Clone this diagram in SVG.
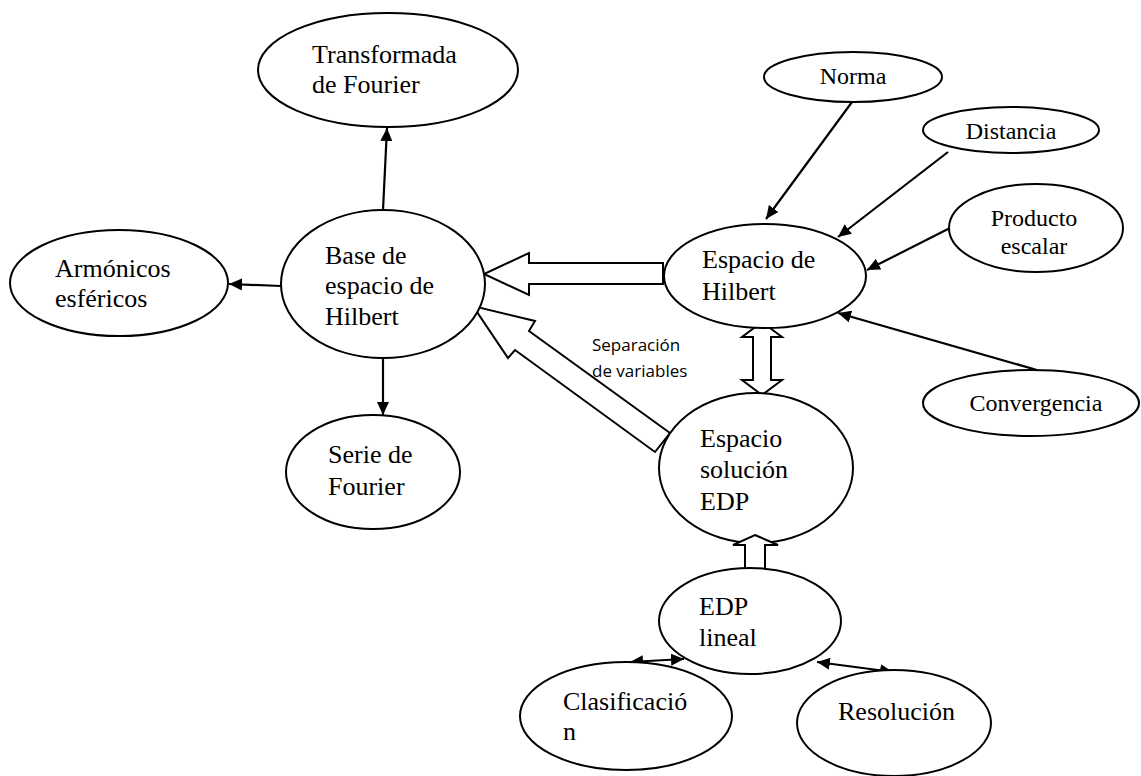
<svg xmlns="http://www.w3.org/2000/svg" width="1141" height="776" viewBox="0 0 1141 776">
<style>
  .node ellipse { fill: #ffffff; stroke: #000000; stroke-width: 2; }
  .t { font-family: "Liberation Serif", "Times New Roman", serif; font-size: 26px; fill: #000000; }
  .ts { font-family: "Liberation Serif", "Times New Roman", serif; font-size: 24px; fill: #000000; }
  .lbl { font-family: "Open Sans", "Liberation Sans", sans-serif; font-size: 17px; fill: #000000; }
  .ln { stroke: #000000; stroke-width: 2.2; fill: none; }
  .blk { fill: #ffffff; stroke: #000000; stroke-width: 2; stroke-linejoin: miter; }
</style>
<defs>
  <marker id="ah" markerUnits="userSpaceOnUse" viewBox="0 0 13 12" refX="13" refY="6" markerWidth="13" markerHeight="12" orient="auto-start-reverse">
    <path d="M0,0 L13,6 L0,12 z" fill="#000000"/>
  </marker>
</defs>
<rect width="1141" height="776" fill="#ffffff"/>

<g id="connectors">
  <line class="ln" x1="383" y1="210" x2="387" y2="128" marker-end="url(#ah)"/>
  <line class="ln" x1="281" y1="286" x2="229" y2="284" marker-end="url(#ah)"/>
  <line class="ln" x1="383" y1="358" x2="383" y2="415" marker-end="url(#ah)"/>
  <line class="ln" x1="852" y1="102" x2="766" y2="219" marker-end="url(#ah)"/>
  <line class="ln" x1="948" y1="152" x2="838" y2="237" marker-end="url(#ah)"/>
  <line class="ln" x1="950" y1="228" x2="867" y2="270" marker-end="url(#ah)"/>
  <line class="ln" x1="1037" y1="370" x2="838" y2="313" marker-end="url(#ah)"/>
  <line class="ln" x1="630" y1="662" x2="684" y2="659" marker-start="url(#ah)" marker-end="url(#ah)"/>
  <line class="ln" x1="817" y1="662" x2="893" y2="672" marker-start="url(#ah)" marker-end="url(#ah)"/>
  <polygon class="blk" points="663,263 529,263 529,253 484,274 529,295 529,284 663,284"/>
  <polygon class="blk" points="670,433 529,331 535,321 473,306 508,358 515,350 655,452"/>
  <polygon class="blk" points="762,322 782,337 771,337 771,380 782,380 762,395 742,380 753,380 753,337 742,337"/>
  <text class="lbl" x="592" y="351">Separación</text>
  <text class="lbl" x="592" y="377">de variables</text>
</g>

<g id="transformada" class="node">
  <ellipse cx="388" cy="70" rx="130" ry="57"/>
  <text class="t" x="312" y="63">Transformada</text>
  <text class="t" x="312" y="93">de Fourier</text>
</g>
<g id="base" class="node">
  <ellipse cx="383" cy="284" rx="102" ry="74"/>
  <text class="t" x="325" y="264">Base de</text>
  <text class="t" x="325" y="294">espacio de</text>
  <text class="t" x="325" y="325">Hilbert</text>
</g>
<g id="armonicos" class="node">
  <ellipse cx="119" cy="283" rx="109" ry="53"/>
  <text class="t" x="55" y="277">Armónicos</text>
  <text class="t" x="55" y="307">esféricos</text>
</g>
<g id="serie" class="node">
  <ellipse cx="373" cy="472" rx="87" ry="57"/>
  <text class="t" x="328" y="463">Serie de</text>
  <text class="t" x="328" y="495">Fourier</text>
</g>
<g id="hilbert" class="node">
  <ellipse cx="765" cy="276" rx="101" ry="52"/>
  <text class="t" x="702" y="268">Espacio de</text>
  <text class="t" x="702" y="300">Hilbert</text>
</g>
<g id="norma" class="node">
  <ellipse cx="853" cy="77" rx="89" ry="25"/>
  <text class="ts" x="853" y="84" text-anchor="middle">Norma</text>
</g>
<g id="distancia" class="node">
  <ellipse cx="1011" cy="130" rx="88" ry="23"/>
  <text class="ts" x="1011" y="139" text-anchor="middle">Distancia</text>
</g>
<g id="producto" class="node">
  <ellipse cx="1036" cy="228" rx="87" ry="44"/>
  <text class="ts" x="1034" y="226" text-anchor="middle">Producto</text>
  <text class="ts" x="1034" y="254" text-anchor="middle">escalar</text>
</g>
<g id="convergencia" class="node">
  <ellipse cx="1031" cy="403" rx="108" ry="33"/>
  <text class="ts" x="1036" y="411" text-anchor="middle">Convergencia</text>
</g>
<g id="solucion" class="node">
  <ellipse cx="756" cy="468" rx="97" ry="75"/>
  <text class="t" x="700" y="447">Espacio</text>
  <text class="t" x="700" y="478">solución</text>
  <text class="t" x="700" y="510">EDP</text>
</g>
<g id="blk-up">
  <polygon class="blk" points="755,535 778,545 765,545 765,575 745,575 745,545 733,545"/>
</g>
<g id="edp" class="node">
  <ellipse cx="750" cy="621" rx="91" ry="53"/>
  <text class="t" x="699" y="615">EDP</text>
  <text class="t" x="699" y="646">lineal</text>
</g>
<g id="clasificacion" class="node">
  <ellipse cx="626" cy="716" rx="106" ry="54"/>
  <text class="t" x="563" y="710">Clasificació</text>
  <text class="t" x="563" y="740">n</text>
</g>
<g id="resolucion" class="node">
  <ellipse cx="894" cy="723" rx="97" ry="53"/>
  <text class="t" x="838" y="720">Resolución</text>
</g>
</svg>
